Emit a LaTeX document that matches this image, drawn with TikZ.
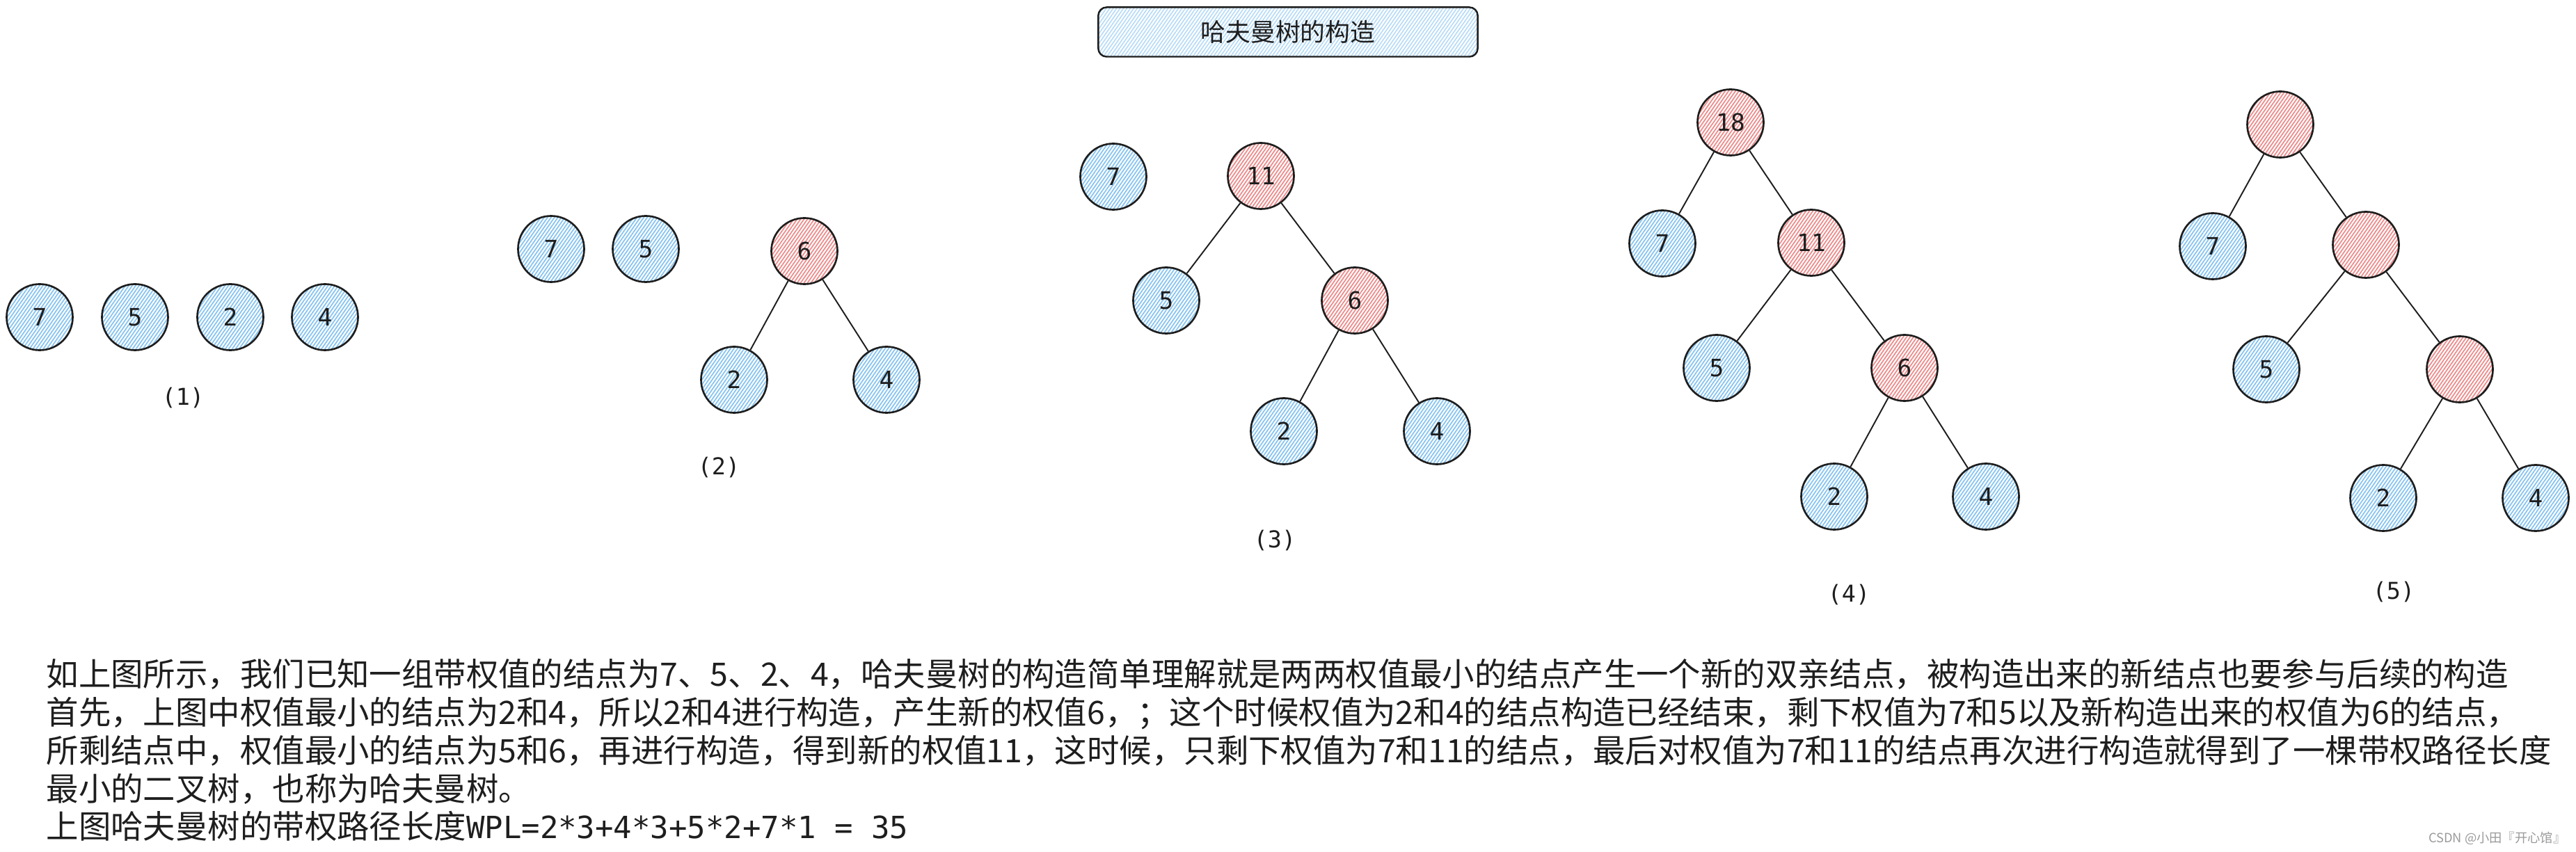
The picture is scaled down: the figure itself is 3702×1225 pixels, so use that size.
\documentclass[tikz,border=0pt]{standalone}
\usepackage{fontspec}
\setmainfont{Noto Sans CJK SC}
\newfontfamily\numfont{DejaVu Sans Mono}
\usepackage{xcolor}
\usetikzlibrary{patterns.meta}

\definecolor{inkline}{HTML}{1E1E1E}
\definecolor{hatchblue}{HTML}{86C3F2}
\definecolor{hatchred}{HTML}{EE8A8A}
\definecolor{hatchtitle}{HTML}{B4DAF8}
\definecolor{marktext}{HTML}{9A9A9A}

\begin{document}
\begin{tikzpicture}[x=0.01cm, y=-0.01cm,
  leaf/.style={draw=inkline, circle, line width=0.75pt, minimum size=0.95cm, inner sep=0pt, text=inkline, font=\numfont\fontsize{9.8pt}{11pt}\selectfont, pattern={Lines[angle=55,distance=1.15pt,line width=0.5pt]}, pattern color=hatchblue},
  merged/.style={leaf, pattern color=hatchred},
  branch/.style={draw=inkline, line width=0.55pt},
  steplabel/.style={inner sep=0pt, text=inkline, font=\numfont\fontsize{9.5pt}{11pt}\selectfont},
  titlebox/.style={draw=inkline, rounded corners=3.4pt, line width=0.7pt, minimum width=5.45cm, minimum height=0.71cm, text=inkline, font=\fontsize{10.2pt}{12pt}\selectfont, pattern={Lines[angle=55,distance=1.15pt,line width=0.45pt]}, pattern color=hatchtitle},
  textline/.style={anchor=base west, inner sep=0pt, text=inkline, font=\fontsize{13.2pt}{15.4pt}\selectfont}
]
\useasboundingbox (0,0) rectangle (3702,1225);

\node[titlebox] (title) at (1851,46) {哈夫曼树的构造};

% (1) four single nodes
\node[leaf] (s1w7) at (57,456) {7};
\node[leaf] (s1w5) at (194,456) {5};
\node[leaf] (s1w2) at (331,456) {2};
\node[leaf] (s1w4) at (467,456) {4};
\node[steplabel] (cap1) at (263,572) {(1)};

% (2)
\node[leaf] (s2w7) at (792,358) {7};
\node[leaf] (s2w5) at (928,358) {5};
\node[merged] (s2w6) at (1156,361) {6};
\node[leaf] (s2w2) at (1055,546) {2};
\node[leaf] (s2w4) at (1274,546) {4};
\node[steplabel] (cap2) at (1033,672) {(2)};

% (3)
\node[leaf] (s3w7) at (1600,254) {7};
\node[merged] (s3w11) at (1812,253) {11};
\node[leaf] (s3w5) at (1676,432) {5};
\node[merged] (s3w6) at (1947,432) {6};
\node[leaf] (s3w2) at (1845,620) {2};
\node[leaf] (s3w4) at (2065,620) {4};
\node[steplabel] (cap3) at (1832,777) {(3)};

% (4)
\node[merged] (s4w18) at (2487,176) {18};
\node[leaf] (s4w7) at (2389,350) {7};
\node[merged] (s4w11) at (2603,349) {11};
\node[leaf] (s4w5) at (2467,529) {5};
\node[merged] (s4w6) at (2737,529) {6};
\node[leaf] (s4w2) at (2636,714) {2};
\node[leaf] (s4w4) at (2854,714) {4};
\node[steplabel] (cap4) at (2657,855) {(4)};

% (5) inner weights left blank
\node[merged] (s5top) at (3277,179) {};
\node[leaf] (s5w7) at (3180,354) {7};
\node[merged] (s5mid) at (3400,352) {};
\node[leaf] (s5w5) at (3257,531) {5};
\node[merged] (s5low) at (3535,531) {};
\node[leaf] (s5w2) at (3425,716) {2};
\node[leaf] (s5w4) at (3644,716) {4};
\node[steplabel] (cap5) at (3440,851) {(5)};

\draw[branch] (s2w6) -- (s2w2);
\draw[branch] (s2w6) -- (s2w4);

\draw[branch] (s3w11) -- (s3w5);
\draw[branch] (s3w11) -- (s3w6);
\draw[branch] (s3w6) -- (s3w2);
\draw[branch] (s3w6) -- (s3w4);

\draw[branch] (s4w18) -- (s4w7);
\draw[branch] (s4w18) -- (s4w11);
\draw[branch] (s4w11) -- (s4w5);
\draw[branch] (s4w11) -- (s4w6);
\draw[branch] (s4w6) -- (s4w2);
\draw[branch] (s4w6) -- (s4w4);

\draw[branch] (s5top) -- (s5w7);
\draw[branch] (s5top) -- (s5mid);
\draw[branch] (s5mid) -- (s5w5);
\draw[branch] (s5mid) -- (s5low);
\draw[branch] (s5low) -- (s5w2);
\draw[branch] (s5low) -- (s5w4);

% explanation below the trees
\node[textline] (l1) at (66,986) {如上图所示，我们已知一组带权值的结点为7、5、2、4，哈夫曼树的构造简单理解就是两两权值最小的结点产生一个新的双亲结点，被构造出来的新结点也要参与后续的构造};
\node[textline] (l2) at (66,1041) {首先，上图中权值最小的结点为2和4，所以2和4进行构造，产生新的权值6，；这个时候权值为2和4的结点构造已经结束，剩下权值为7和5以及新构造出来的权值为6的结点，};
\node[textline] (l3) at (66,1096) {所剩结点中，权值最小的结点为5和6，再进行构造，得到新的权值11，这时候，只剩下权值为7和11的结点，最后对权值为7和11的结点再次进行构造就得到了一棵带权路径长度};
\node[textline] (l4) at (66,1151) {最小的二叉树，也称为哈夫曼树。};
\node[textline] (l5) at (66,1205) {上图哈夫曼树的带权路径长度{\numfont\fontsize{12.5pt}{15pt}\selectfont WPL=2*3+4*3+5*2+7*1 = 35}};

\node[anchor=east, inner sep=0pt, text=marktext, font=\fontsize{5.2pt}{6pt}\selectfont] (mark) at (3688,1205) {CSDN @小田『开心馆』};
\end{tikzpicture}
\end{document}
